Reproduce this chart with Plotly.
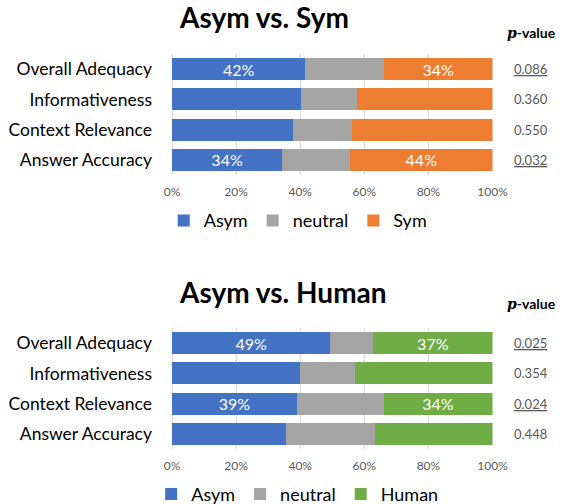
import plotly.graph_objects as go

categories = ["Overall Adequacy", "Informativeness", "Context Relevance", "Answer Accuracy"]

# Asym vs. Sym (percent)
sym_asym = [41.6, 40.1, 37.6, 34.4]
sym_neutral = [24.6, 17.5, 18.5, 21.2]
sym_sym = [33.8, 42.4, 43.9, 44.4]
sym_asym_lbl = ["42%", "", "", "34%"]
sym_sym_lbl = ["34%", "", "", "44%"]
sym_p = ["0.086", "0.360", "0.550", "0.032"]
sym_p_under = [True, False, False, True]

# Asym vs. Human (percent)
hum_asym = [49.4, 39.9, 39.0, 35.6]
hum_neutral = [13.4, 17.1, 27.0, 27.8]
hum_human = [37.2, 43.0, 34.0, 36.6]
hum_asym_lbl = ["49%", "", "39%", ""]
hum_human_lbl = ["37%", "", "34%", ""]
hum_p = ["0.025", "0.354", "0.024", "0.448"]
hum_p_under = [True, False, True, False]

x_ticks = [0, 20, 40, 60, 80, 100]
x_tick_text = ["0%", "20%", "40%", "60%", "80%", "100%"]

BLUE = "#4472C4"
GREY = "#A5A5A5"
ORANGE = "#ED7D31"
GREEN = "#70AD47"
FONT = "Lato"

W, H = 565, 504

fig = go.Figure()


def add_bar(vals, name, color, labels, xa, ya, legend):
    fig.add_trace(go.Bar(
        y=categories, x=vals, name=name, orientation="h",
        marker=dict(color=color, line=dict(width=0)),
        text=labels, textposition="inside", insidetextanchor="middle",
        textangle=0, constraintext="none",
        textfont=dict(family=FONT, size=16, color="white"),
        xaxis=xa, yaxis=ya, legend=legend, hoverinfo="x+y",
    ))


add_bar(sym_asym, "Asym", BLUE, sym_asym_lbl, "x", "y", "legend")
add_bar(sym_neutral, "neutral", GREY, [""] * 4, "x", "y", "legend")
add_bar(sym_sym, "Sym", ORANGE, sym_sym_lbl, "x", "y", "legend")
add_bar(hum_asym, "Asym", BLUE, hum_asym_lbl, "x2", "y2", "legend2")
add_bar(hum_neutral, "neutral", GREY, [""] * 4, "x2", "y2", "legend2")
add_bar(hum_human, "Human", GREEN, hum_human_lbl, "x2", "y2", "legend2")

xdom = [172 / W, 492.5 / W]
top_dom = [1 - 175 / H, 1 - 54 / H]
bot_dom = [1 - 449 / H, 1 - 328 / H]

xcommon = dict(
    range=[0, 100], tickvals=x_ticks, ticktext=x_tick_text,
    showgrid=True, gridcolor="#D9D9D9", gridwidth=1,
    zeroline=True, zerolinecolor="#D9D9D9", zerolinewidth=1,
    showline=False, ticks="", ticklabelstandoff=8, automargin=False,
    tickfont=dict(family=FONT, size=12, color="#595959"),
    fixedrange=True, domain=xdom,
)
ycommon = dict(
    categoryorder="array", categoryarray=categories, autorange="reversed",
    showgrid=False, zeroline=False, showline=False, ticks="",
    ticklabelstandoff=19, automargin=False,
    tickfont=dict(family=FONT, size=17.5, color="#000000"),
    fixedrange=True,
)

legend_common = dict(orientation="h", xanchor="center", yanchor="middle",
                     font=dict(family=FONT, size=18, color="#000000"), itemwidth=30,
                     traceorder="normal", bgcolor="rgba(0,0,0,0)")

fig.update_layout(
    width=W, height=H,
    margin=dict(l=0, r=0, t=0, b=0, autoexpand=False),
    paper_bgcolor="white", plot_bgcolor="white",
    barmode="stack", bargap=0.27,
    font=dict(family=FONT, color="#000000"),
    xaxis=dict(anchor="y", **xcommon),
    xaxis2=dict(anchor="y2", **xcommon),
    yaxis=dict(anchor="x", domain=top_dom, **ycommon),
    yaxis2=dict(anchor="x2", domain=bot_dom, **ycommon),
    legend=dict(x=0.527, y=1 - 220.7 / H, **legend_common),
    legend2=dict(x=0.526, y=1 - 494.3 / H, **legend_common),
    showlegend=True,
)

annotations = [
    dict(text="<b>Asym vs. Sym</b>", x=263.5 / W, y=1 - 17.5 / H, xref="paper", yref="paper",
         showarrow=False, xanchor="center", yanchor="middle",
         font=dict(family=FONT, size=28, color="#000000")),
    dict(text="<b>Asym vs. Human</b>", x=282.5 / W, y=1 - 292 / H, xref="paper", yref="paper",
         showarrow=False, xanchor="center", yanchor="middle",
         font=dict(family=FONT, size=28, color="#000000")),
]
header = "<b><span style='font-family:DejaVu Serif'><i>p</i></span>-value</b>"
for yc in (33, 303.5):
    annotations.append(dict(text=header, x=531 / W, y=1 - yc / H, xref="paper", yref="paper",
                            showarrow=False, xanchor="center", yanchor="middle",
                            font=dict(family=FONT, size=14, color="#000000")))

for pv, und, yref in ((sym_p, sym_p_under, "y"), (hum_p, hum_p_under, "y2")):
    for cat, p, u in zip(categories, pv, und):
        annotations.append(dict(text=f"<u>{p}</u>" if u else p, x=530.5 / W, y=cat,
                                xref="paper", yref=yref, showarrow=False,
                                xanchor="center", yanchor="middle",
                                font=dict(family=FONT, size=13, color="#595959")))

fig.update_layout(annotations=annotations)

fig.write_html(
    "out.html",
    config={"displayModeBar": False},
    post_script="document.body.style.margin='0';document.body.style.overflow='hidden';",
)
